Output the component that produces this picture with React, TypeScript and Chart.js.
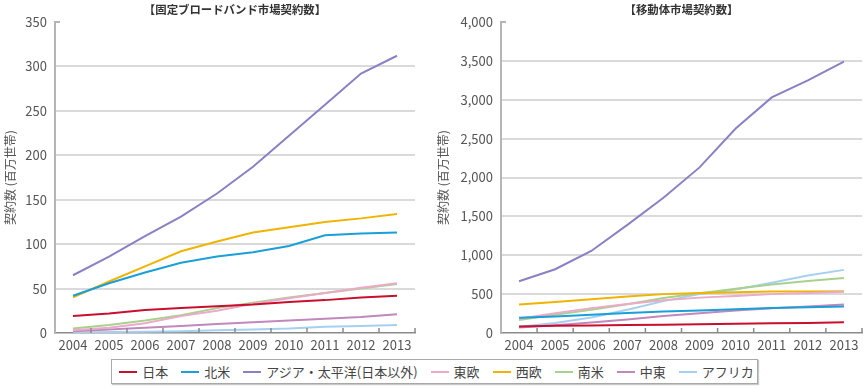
import React, { useEffect, useRef } from "react";
import { Chart, registerables } from "chart.js";

Chart.register(...registerables);

const years = ["2004", "2005", "2006", "2007", "2008", "2009", "2010", "2011", "2012", "2013"];
const regionNames = ["日本", "北米", "アジア・太平洋(日本以外)", "東欧", "西欧", "南米", "中東", "アフリカ"];
const regionColors = ["#c8102e", "#1a9fd9", "#8b80c4", "#eaaac8", "#f0b400", "#a9d18e", "#c088bc", "#a6d0f2"];

const fixedTitle = "【固定ブロードバンド市場契約数】";
const mobileTitle = "【移動体市場契約数】";
const yAxisTitle = "契約数 (百万世帯)";

const japanFixed = [19, 22, 26, 28, 30, 32, 35, 37, 40, 42];
const naFixed = [42, 56, 68, 79, 86, 91, 98, 110, 112, 113];
const asiaFixed = [65, 86, 109, 131, 157, 187, 222, 257, 292, 312];
const eeFixed = [3, 6, 11, 19, 25, 33, 39, 45, 51, 56];
const weFixed = [40, 58, 75, 92, 103, 113, 119, 125, 129, 134];
const saFixed = [5, 9, 14, 20, 28, 34, 40, 45, 50, 55];
const meFixed = [2, 4, 6, 8, 10, 12, 14, 16, 18, 21];
const afFixed = [0.5, 1, 1.5, 2, 3, 4, 5, 7, 8, 9];

const japanMobile = [85, 92, 98, 103, 107, 112, 118, 124, 130, 137];
const naMobile = [195, 213, 235, 258, 275, 290, 305, 320, 330, 340];
const asiaMobile = [665, 820, 1055, 1390, 1740, 2130, 2630, 3030, 3250, 3490];
const eeMobile = [185, 255, 320, 372, 420, 455, 475, 500, 515, 530];
const weMobile = [365, 400, 435, 470, 500, 515, 525, 535, 535, 538];
const saMobile = [168, 235, 300, 370, 450, 510, 570, 625, 670, 707];
const meMobile = [70, 100, 135, 175, 220, 255, 290, 318, 342, 368];
const afMobile = [80, 130, 200, 300, 410, 500, 560, 645, 740, 812];

const fixedSeries = [japanFixed, naFixed, asiaFixed, eeFixed, weFixed, saFixed, meFixed, afFixed];
const mobileSeries = [japanMobile, naMobile, asiaMobile, eeMobile, weMobile, saMobile, meMobile, afMobile];

const FONT = "'Noto Sans CJK JP', 'Noto Sans', sans-serif";

const decorPlugin = {
  id: "decor",
  afterDraw(chart: any, _args: any, opts: any) {
    const { ctx, chartArea, scales } = chart;
    const x = scales.x;
    const y = scales.y;
    ctx.save();
    const n = x.ticks.length;
    const half = n > 1 ? (x.getPixelForTick(1) - x.getPixelForTick(0)) / 2 : 0;
    ctx.strokeStyle = "#8a8a8a";
    ctx.lineWidth = 1.5;
    for (let i = 1; i <= n; i++) {
      const px = x.getPixelForTick(i - 1) + half;
      ctx.beginPath();
      ctx.moveTo(px, chartArea.bottom);
      ctx.lineTo(px, chartArea.bottom - 5);
      ctx.stroke();
    }
    const topPx = y.getPixelForValue(y.max);
    ctx.strokeStyle = "#b5b5b5";
    ctx.lineWidth = 2;
    ctx.beginPath();
    ctx.moveTo(chartArea.left, topPx);
    ctx.lineTo(chartArea.left + 5, topPx);
    ctx.stroke();
    ctx.fillStyle = "#333";
    ctx.font = `bold 11.4px ${FONT}`;
    ctx.textAlign = "center";
    ctx.textBaseline = "middle";
    ctx.fillText(opts.text, (chartArea.left + chartArea.right) / 2, 10);
    ctx.restore();
  },
};

function makeConfig(series: number[][], max: number, step: number, title: string, yWidth: number, padRight: number): any {
  return {
    type: "line",
    data: {
      labels: years,
      datasets: series.map((vals, i) => ({
        label: regionNames[i],
        data: vals,
        borderColor: regionColors[i],
        backgroundColor: regionColors[i],
        borderWidth: 2,
        pointRadius: 0,
        tension: 0,
        fill: false,
      })),
    },
    plugins: [decorPlugin],
    options: {
      animation: false,
      responsive: false,
      maintainAspectRatio: false,
      layout: { padding: { top: 22, right: padRight, left: 0, bottom: 0 } },
      plugins: {
        legend: { display: false },
        tooltip: { enabled: false },
        title: { display: false },
        decor: { text: title },
      },
      scales: {
        x: {
          offset: true,
          grid: { display: false, drawTicks: false },
          border: { display: true, color: "#8a8a8a", width: 1.5 },
          ticks: { color: "#555", font: { family: FONT, size: 13 }, padding: 4, maxRotation: 0, autoSkip: false },
          afterFit: (s: any) => { s.height = 23; },
        },
        y: {
          min: 0,
          max: max,
          ticks: { stepSize: step, color: "#555", font: { family: FONT, size: 13 }, padding: 8 },
          grid: {
            drawTicks: false,
            lineWidth: 2,
            color: (c: any) => (c.tick && (c.tick.value === max || c.tick.value === 0) ? "rgba(0,0,0,0)" : "#dadada"),
          },
          border: { display: true, color: "#b5b5b5", width: 2 },
          title: { display: true, text: yAxisTitle, color: "#555", font: { family: FONT, size: 12 }, padding: { top: 3, bottom: 0 } },
          afterFit: (s: any) => { s.width = yWidth; },
        },
      },
    },
  };
}

function LineChart({ series, max, step, title, yWidth, padRight, left }: any) {
  const ref = useRef<HTMLCanvasElement>(null);
  useEffect(() => {
    if (!ref.current) return;
    const chart = new Chart(ref.current, makeConfig(series, max, step, title, yWidth, padRight));
    return () => chart.destroy();
  }, []);
  return (
    <canvas
      ref={ref}
      width={433}
      height={356}
      style={{ position: "absolute", left, top: 0, width: 433, height: 356 }}
    />
  );
}

export default function App() {
  return (
    <div style={{ position: "absolute", left: 0, top: 0, width: 866, height: 389, background: "#fff", overflow: "hidden" }}>
      <LineChart series={fixedSeries} max={350} step={50} title={fixedTitle} yWidth={55} padRight={18} left={0} />
      <LineChart series={mobileSeries} max={4000} step={500} title={mobileTitle} yWidth={68} padRight={4} left={433} />
      <div
        style={{
          position: "absolute",
          left: 111,
          top: 359,
          width: 647,
          height: 25,
          border: "1px solid #a8a8a8",
          boxShadow: "1px 1px 1px #c8c8c8",
          display: "flex",
          alignItems: "center",
          justifyContent: "center",
          gap: 13,
          paddingLeft: 4,
          fontFamily: FONT,
          fontSize: 13,
          color: "#444",
          boxSizing: "border-box",
        }}
      >
        {regionNames.map((name, i) => (
          <div key={name} style={{ display: "flex", alignItems: "center", whiteSpace: "nowrap" }}>
            <span style={{ display: "inline-block", width: 18, height: 2, background: regionColors[i], marginRight: 5 }} />
            <span>{name}</span>
          </div>
        ))}
      </div>
    </div>
  );
}
